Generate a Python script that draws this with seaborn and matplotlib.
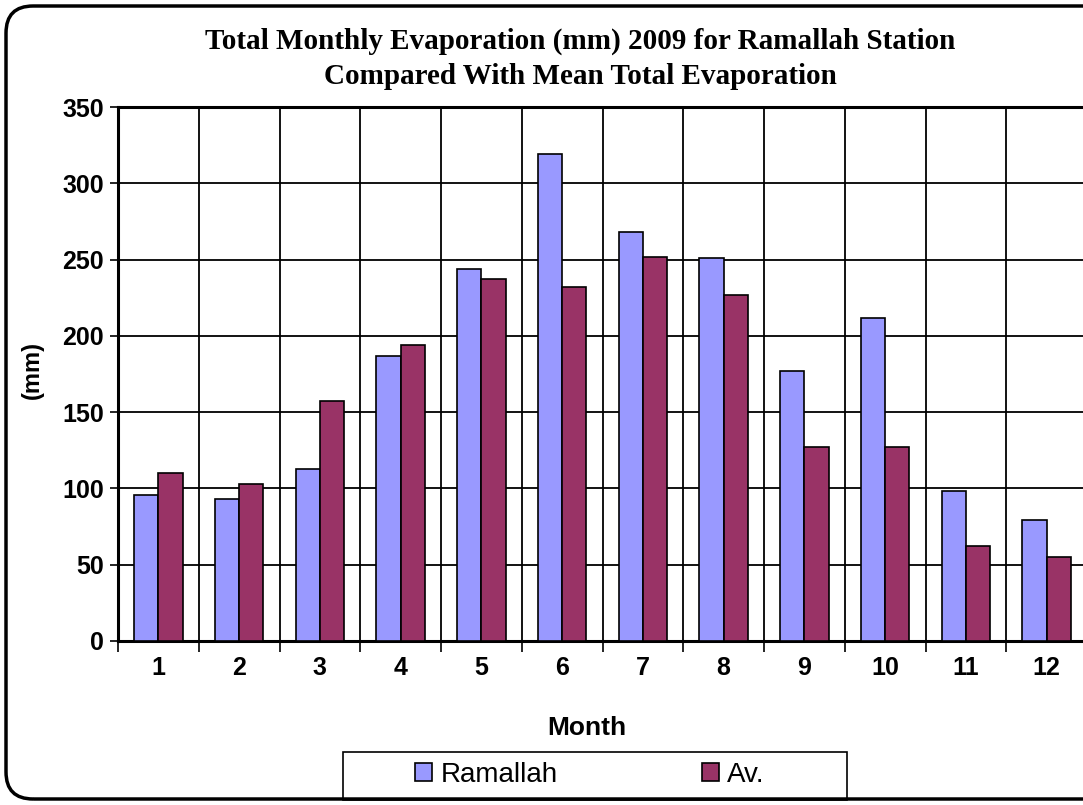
import matplotlib.pyplot as plt
import matplotlib.patches as mpatches
import seaborn as sns
import pandas as pd
import numpy as np

months = ["1", "2", "3", "4", "5", "6", "7", "8", "9", "10", "11", "12"]
ramallah = [96, 93, 113, 187, 244, 319, 268, 251, 177, 212, 98, 79]
average = [110, 103, 157, 194, 237, 232, 252, 227, 127, 127, 62, 55]
series_names = ["Ramallah", "Av."]
colors = ["#9999FF", "#993366"]

df = pd.DataFrame({
    "Month": months * 2,
    "Value": ramallah + average,
    "Series": [series_names[0]] * 12 + [series_names[1]] * 12,
})

sns.set_theme(style="white")
plt.rcParams["font.family"] = ["Liberation Sans", "DejaVu Sans"]
plt.rcParams["text.color"] = "black"
plt.rcParams["axes.labelcolor"] = "black"
plt.rcParams["xtick.color"] = "black"
plt.rcParams["ytick.color"] = "black"

W, H = 1083, 805
fig = plt.figure(figsize=(W / 100, H / 100), dpi=100)
ax = fig.add_axes([118 / W, 1 - 641 / H, (1087 - 118) / W, (641 - 107) / H])

sns.barplot(data=df, x="Month", y="Value", hue="Series", order=months,
            hue_order=series_names, palette=colors, width=0.6,
            edgecolor="black", linewidth=1.2, saturation=1, ax=ax, legend=False, zorder=3)

ax.set_xlim(-0.5, 11.5)
ax.set_ylim(0, 350)
ax.set_yticks(np.arange(0, 351, 50))
ax.set_xticks(np.arange(-0.5, 12, 1), minor=True)

ax.grid(False)
for y in np.arange(50, 351, 50):
    ax.axhline(y, color="black", lw=1.3, zorder=1)
for x in np.arange(0.5, 11.5, 1):
    ax.axvline(x, color="black", lw=1.3, zorder=1)

for s in ["left", "bottom", "top"]:
    ax.spines[s].set_color("black")
    ax.spines[s].set_linewidth(2.2)
ax.spines["right"].set_visible(False)

ax.tick_params(axis="x", which="major", length=0, pad=11, labelsize=18)
ax.tick_params(axis="x", which="minor", length=8, width=1.2, color="black", direction="out", bottom=True)
ax.tick_params(axis="y", which="major", length=6, width=1.2, color="black", direction="out", left=True, pad=4, labelsize=18)
for lab in ax.get_xticklabels() + ax.get_yticklabels():
    lab.set_fontweight("bold")

ax.set_xlabel("Month", fontsize=19, fontweight="bold")
ax.xaxis.set_label_coords(0.484, -0.141)
ax.set_ylabel("(mm)", fontsize=17, fontweight="bold")
ax.yaxis.set_label_coords(-0.076, 0.507)

fig.text(580 / W, 1 - 41 / H, "Total Monthly Evaporation (mm) 2009 for Ramallah Station",
         ha="center", va="center", fontsize=21, fontweight="bold", family="Liberation Serif")
fig.text(580 / W, 1 - 76 / H, "Compared With Mean Total Evaporation",
         ha="center", va="center", fontsize=21, fontweight="bold", family="Liberation Serif")

# outer chart border (right side runs off the image)
border = mpatches.FancyBboxPatch((6 / W, 6 / H), (1120 - 12) / W, (H - 12) / H,
                                 boxstyle="round,pad=0,rounding_size=0.025",
                                 transform=fig.transFigure, fill=False,
                                 edgecolor="black", linewidth=2.5, mutation_aspect=W / H)
fig.patches.append(border)

# legend box
box = mpatches.Rectangle((343 / W, 1 - 800 / H), (847 - 343) / W, 48 / H,
                         transform=fig.transFigure, fill=False, edgecolor="black", linewidth=1.2)
fig.patches.append(box)
handles = [mpatches.Patch(facecolor=c, edgecolor="black", linewidth=1.2) for c in colors]
fig.legend(handles, series_names, loc="center", bbox_to_anchor=(590 / W, 1 - 775 / H),
           ncol=2, frameon=False, fontsize=20, handlelength=0.6, handleheight=0.6,
           handletextpad=0.3, columnspacing=5.2)

fig.savefig("out.png", dpi=100)
